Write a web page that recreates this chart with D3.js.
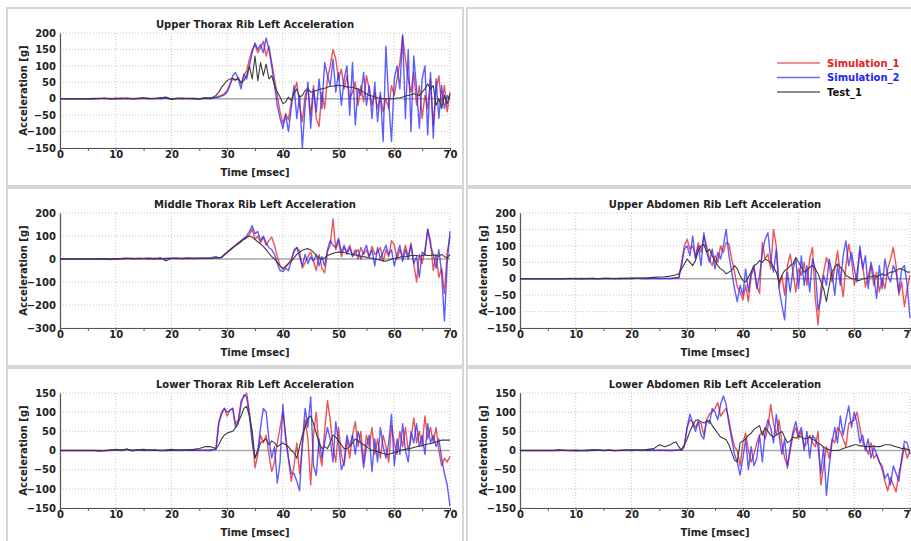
<!DOCTYPE html>
<html>
<head>
<meta charset="utf-8">
<script src="https://cdn.jsdelivr.net/npm/d3@7"></script>
<style>
  html, body { margin: 0; padding: 0; background: #fff; overflow: hidden; }
  text { font-family: "DejaVu Sans", Verdana, sans-serif; font-weight: bold; }
</style>
</head>
<body>
<svg id="chart" width="911" height="541"></svg>
<script>
// Sample times [msec]: 1 ms steps before impact, 0.5 ms steps afterwards
const timeMs = [
  0,1,2,3,4,5,6,7,8,9,10,11,12,13,14,15,16,17,18,19,20,21,22,23,24,25,26,
  27,27.5,28,28.5,29,29.5,30,30.5,31,31.5,
  32,32.5,33,33.5,34,34.5,35,35.5,36,36.5,
  37,37.5,38,38.5,39,39.5,40,40.5,41,41.5,
  42,42.5,43,43.5,44,44.5,45,45.5,46,46.5,
  47,47.5,48,48.5,49,49.5,50,50.5,51,51.5,
  52,52.5,53,53.5,54,54.5,55,55.5,56,56.5,
  57,57.5,58,58.5,59,59.5,60,60.5,61,61.5,
  62,62.5,63,63.5,64,64.5,65,65.5,66,66.5,
  67,67.5,68,68.5,69,69.5,70
];

const timeTicks = [0, 10, 20, 30, 40, 50, 60, 70];
const ticksA = [-150, -100, -50, 0, 50, 100, 150, 200];
const ticksB = [-300, -200, -100, 0, 100, 200];
const ticksC = [-150, -100, -50, 0, 50, 100, 150];

const seriesNames = ["Simulation_1", "Simulation_2", "Test_1"];

// ---- Upper Thorax Rib Left [g]
const upperThoraxSim1 = [
  0,0,0,0,0,0,0,1,0,1,0,2,0,1,0,1,0,1,2,1,0,1,0,1,1,0,2,
  2,3,5,8,10,15,25,45,60,55,
  65,45,70,85,120,150,165,140,155,175,
  130,160,110,60,10,-40,-75,-45,-65,-10,
  20,50,-20,-70,10,30,-50,40,-60,-85,
  20,-30,60,100,150,120,60,90,30,70,
  0,20,50,-20,40,-10,70,30,-20,20,
  -30,10,-40,0,-30,40,10,60,110,190,
  120,60,20,80,-20,40,-60,10,-30,60,
  -80,30,70,-20,40,-40,20
];
const upperThoraxSim2 = [
  0,0,0,0,0,0,0,1,1,0,1,0,1,0,1,2,0,1,0,2,-1,1,0,1,0,-2,1,
  0,2,3,5,8,12,20,40,70,80,
  60,30,75,60,100,140,170,150,165,140,
  185,150,100,40,-20,-60,-90,-50,-100,-30,
  40,-60,10,-150,-20,50,-90,30,-40,60,
  -30,110,70,40,120,20,80,-20,60,100,
  -50,110,-80,30,10,80,-20,40,-60,50,
  -70,20,-130,160,-10,-130,60,100,30,195,
  -60,150,-100,130,30,-90,60,100,-110,80,
  -120,60,-60,40,-30,10,0
];
const upperThoraxTest = [
  0,0,0,0,0,0,1,0,2,-1,1,0,2,-1,1,2,1,0,3,5,-2,1,2,0,1,0,3,
  2,5,10,20,35,45,55,60,62,58,
  60,50,55,70,100,60,130,55,110,70,
  105,60,70,40,20,5,-15,-10,5,-5,
  15,30,5,10,25,30,20,22,25,28,
  30,32,35,38,38,40,40,40,38,36,
  35,35,32,30,25,20,15,10,8,5,
  3,2,0,0,0,0,0,2,3,5,
  8,10,12,15,12,10,20,30,45,30,
  40,-20,0,-30,10,-15,15
];

// ---- Middle Thorax Rib Left [g]
const middleThoraxSim1 = [
  0,0,0,0,0,0,0,0,1,-2,0,1,2,0,3,1,2,0,2,0,4,3,2,3,2,4,3,
  3,5,6,5,8,20,30,40,50,60,
  70,80,88,95,105,130,85,100,70,95,
  60,80,95,60,10,-30,-45,-30,-20,0,
  30,50,35,-40,-15,10,30,-10,-50,20,
  -40,-60,30,60,175,40,80,10,50,30,
  60,15,40,0,50,20,40,10,55,20,
  30,50,-10,40,10,80,60,0,40,10,
  60,10,70,-20,-100,20,-20,40,130,80,
  -50,20,-80,-40,-150,30,100
];
const middleThoraxSim2 = [
  0,0,0,0,0,0,0,1,0,-1,1,2,4,1,2,2,1,3,0,4,3,2,3,5,2,3,4,
  5,8,10,5,6,18,28,40,50,58,
  68,78,90,100,120,145,110,120,80,100,
  70,50,40,20,-20,-50,-55,-40,-50,-10,
  40,50,10,-30,20,-20,10,-10,20,-30,
  10,-30,40,80,60,50,90,30,60,20,
  50,10,30,40,0,30,60,10,40,-30,
  50,0,30,60,20,40,-30,20,60,-10,
  40,0,60,-20,10,-80,30,20,130,60,
  20,-40,40,-60,-270,-20,120
];
const middleThoraxTest = [
  0,0,0,0,0,0,0,0,1,0,1,0,2,3,1,2,4,1,5,-8,2,3,1,2,3,2,3,
  2,3,5,5,8,18,28,38,48,58,
  66,75,85,92,100,95,85,75,65,55,
  40,25,10,0,-15,-30,-40,-35,-20,-10,
  5,20,30,38,42,45,40,30,15,5,
  0,5,15,20,25,28,30,30,28,25,
  22,20,18,15,12,10,8,5,3,0,
  -2,-5,-8,-10,-5,0,2,5,8,10,
  10,12,15,15,15,12,15,18,15,15,
  18,15,12,20,10,5,20
];

// ---- Upper Abdomen Rib Left [g]
const upperAbdomenSim1 = [
  0,0,0,0,0,0,0,0,0,0,1,0,0,1,0,0,1,0,1,0,1,1,0,1,1,1,1,
  1,2,3,2,50,100,120,90,100,65,
  110,80,130,100,60,40,70,50,100,80,
  110,105,60,20,-25,-40,-65,-20,-70,10,
  30,-20,-45,110,60,75,30,150,100,-25,
  10,-50,40,75,20,-40,30,10,50,-20,
  60,95,-60,-140,-30,20,65,40,-10,30,
  85,10,-55,40,105,60,-20,20,85,40,
  -25,10,40,-20,20,-40,0,-30,30,60,
  95,40,-50,-10,-85,-30,10
];
const upperAbdomenSim2 = [
  0,0,0,0,0,0,0,0,0,1,0,0,1,0,0,1,0,1,0,1,0,1,1,0,1,0,1,
  0,1,2,3,40,90,100,70,130,60,
  100,40,140,80,50,90,30,80,60,100,
  150,70,20,-30,-70,-20,-50,30,-40,20,
  40,-30,10,80,120,140,60,20,90,-30,
  -80,-125,20,-40,30,60,-30,70,-20,40,
  -40,60,30,-95,-60,10,-20,60,20,-50,
  40,-20,70,115,40,80,30,-10,100,30,
  70,-30,50,10,-60,40,-30,60,10,-10,
  40,20,-40,30,40,-20,-120
];
const upperAbdomenTest = [
  0,0,0,0,0,0,0,0,0,0,0,1,0,1,0,1,1,0,1,1,2,2,2,3,4,5,6,
  8,10,12,15,30,45,60,50,40,55,
  85,100,105,80,90,70,55,40,30,25,
  15,20,25,40,30,10,-5,-10,5,20,
  40,45,55,50,60,55,50,35,20,-10,
  10,25,30,40,45,65,50,35,20,25,
  35,40,30,15,-10,-30,-70,-20,20,35,
  45,35,25,10,5,0,0,-5,-5,0,
  0,5,5,10,5,10,15,10,15,20,
  20,25,30,30,25,20,20
];

// ---- Lower Thorax Rib Left [g]
const lowerThoraxSim1 = [
  0,0,0,0,0,0,0,-1,0,0,2,1,3,0,1,2,0,1,-1,0,1,0,1,0,1,0,1,
  2,3,5,75,100,110,90,105,110,70,
  80,130,140,150,100,40,-45,-10,40,20,
  40,-10,-55,-30,20,60,100,40,-20,-80,
  -40,20,-60,10,80,30,-90,40,100,0,
  -40,50,130,80,10,-30,60,-10,-40,30,
  -20,40,75,10,50,-30,40,10,60,-10,
  30,-20,40,10,-30,65,20,-10,50,10,
  60,0,30,85,20,50,10,90,30,60,
  20,60,0,-40,-20,-30,-15
];
const lowerThoraxSim2 = [
  0,0,0,0,0,0,0,0,-1,1,2,0,3,1,2,0,1,0,1,0,0,1,0,1,0,1,0,
  0,2,3,70,95,110,100,105,110,60,
  70,120,145,140,90,20,-20,0,60,110,
  100,30,-20,10,-85,-30,120,30,-20,-60,
  -60,-80,-105,20,110,60,140,-40,-65,30,
  -20,20,60,30,-30,75,20,-50,-30,40,
  10,40,-10,50,20,-45,10,40,-55,30,
  -30,60,10,-20,20,95,-40,30,-10,70,
  0,-30,50,20,70,10,40,-10,70,20,
  40,10,30,-20,-60,-90,-145
];
const lowerThoraxTest = [
  0,0,0,0,0,0,0,-1,0,1,3,1,4,-1,2,3,1,2,0,1,3,1,2,2,3,5,10,
  10,8,5,15,30,40,45,48,50,60,
  75,90,110,115,90,50,-20,0,20,25,
  30,15,25,20,10,15,20,15,10,0,
  -5,-20,10,40,60,85,90,70,45,20,
  5,10,5,20,40,35,25,15,5,5,
  10,20,30,25,20,15,10,5,0,0,
  -3,-5,-8,-10,-10,-8,-5,-3,0,2,
  3,5,6,8,10,12,13,15,17,18,
  20,22,25,27,27,27,27
];

// ---- Lower Abdomen Rib Left [g]
const lowerAbdomenSim1 = [
  0,0,0,0,0,0,0,1,0,0,0,-1,1,0,1,0,1,0,0,1,0,1,0,1,0,1,0,
  0,1,1,2,3,15,60,80,75,60,
  75,70,40,80,95,100,110,125,90,100,
  110,80,40,10,0,-40,20,45,0,-30,
  -10,20,40,50,30,60,120,70,40,80,
  20,-20,-40,0,40,60,30,50,10,20,
  40,20,10,50,-90,-40,10,-20,30,20,
  60,50,30,10,70,75,80,100,60,20,
  10,-10,20,-20,-10,-30,-50,-80,-105,-70,
  -90,-108,-60,-30,10,-20,0
];
const lowerAbdomenSim2 = [
  0,0,0,0,0,0,0,0,1,0,-1,0,1,2,1,0,1,-1,1,1,0,1,1,0,1,0,1,
  0,0,1,1,2,10,60,95,70,50,
  75,40,30,80,70,110,100,80,120,142,
  120,70,30,-10,-30,-64,-20,30,-50,10,
  -40,-20,40,-30,50,80,60,20,94,40,
  -10,30,-46,10,50,76,40,60,0,50,
  -20,40,30,10,-60,10,-117,-40,20,60,
  20,90,40,80,116,60,100,70,20,40,
  0,30,-20,10,-10,-30,-40,-73,-60,-90,
  -40,-60,-80,-20,24,20,-10
];
const lowerAbdomenTest = [
  0,0,0,0,0,0,0,2,0,0,1,0,-1,1,2,0,1,0,0,1,2,1,1,3,5,15,10,
  15,20,22,10,0,15,30,50,65,78,
  80,75,72,75,78,65,55,45,35,32,
  28,15,-5,-25,-30,20,25,30,40,45,
  55,60,65,40,60,50,40,35,40,45,
  50,35,20,25,35,32,38,35,30,32,
  35,30,25,20,15,8,5,2,0,0,
  0,2,5,8,10,12,15,15,12,12,
  10,10,10,12,10,10,12,15,15,15,
  12,10,8,5,5,3,0
];

const panels = [
  { title: "Upper Thorax Rib Left Acceleration",  col: 0, row: 0, yTicks: ticksA,
    series: [upperThoraxSim1, upperThoraxSim2, upperThoraxTest] },
  { title: "Middle Thorax Rib Left Acceleration", col: 0, row: 1, yTicks: ticksB,
    series: [middleThoraxSim1, middleThoraxSim2, middleThoraxTest] },
  { title: "Upper Abdomen Rib Left Acceleration", col: 1, row: 1, yTicks: ticksA,
    series: [upperAbdomenSim1, upperAbdomenSim2, upperAbdomenTest] },
  { title: "Lower Thorax Rib Left Acceleration",  col: 0, row: 2, yTicks: ticksC,
    series: [lowerThoraxSim1, lowerThoraxSim2, lowerThoraxTest] },
  { title: "Lower Abdomen Rib Left Acceleration", col: 1, row: 2, yTicks: ticksC,
    series: [lowerAbdomenSim1, lowerAbdomenSim2, lowerAbdomenTest] }
];

// ---- layout
const colX = [7, 467], rowY = [8, 188, 368];
const boxW = 456, boxH = 178;
const plotDX = 53, plotDY = 25, plotW = 390, plotH = 115;

const lineStyle = [
  { stroke: "rgba(232,40,40,0.8)",  width: 1.4 },
  { stroke: "rgba(40,40,255,0.75)", width: 1.4 },
  { stroke: "#3a3a3a",              width: 1.1 }
];
const legendColors = ["#e32222", "#2323f5", "#111"];
const legendLineColors = ["#ef6a6a", "#6a6aff", "#666666"];

const svg = d3.select("#chart");
svg.append("rect").attr("width", 911).attr("height", 541).attr("fill", "#fff");

// panel frames (including the legend-only frame)
[[0,0],[1,0],[0,1],[1,1],[0,2],[1,2]].forEach(([c, r]) => {
  svg.append("rect")
    .attr("x", colX[c]).attr("y", rowY[r])
    .attr("width", boxW).attr("height", boxH)
    .attr("fill", "#fff").attr("stroke", "#d6d6d6").attr("stroke-width", 2);
});

panels.forEach((p, idx) => {
  const ox = colX[p.col] + plotDX, oy = rowY[p.row] + plotDY;
  const g = svg.append("g").attr("transform", `translate(${ox},${oy})`);
  const x = d3.scaleLinear().domain([0, 70]).range([0, plotW]);
  const yDom = d3.extent(p.yTicks);
  const y = d3.scaleLinear().domain(yDom).range([plotH, 0]);

  // dotted grid
  g.append("g").selectAll("line").data(timeTicks).join("line")
    .attr("x1", d => x(d)).attr("x2", d => x(d)).attr("y1", 0).attr("y2", plotH)
    .attr("stroke", "#c4c4c4").attr("stroke-width", 1).attr("stroke-dasharray", "1,2");
  g.append("g").selectAll("line").data(p.yTicks).join("line")
    .attr("x1", 0).attr("x2", plotW).attr("y1", d => y(d)).attr("y2", d => y(d))
    .attr("stroke", "#c4c4c4").attr("stroke-width", 1).attr("stroke-dasharray", "1,2");

  // zero reference line
  g.append("line").attr("x1", 0).attr("x2", plotW).attr("y1", y(0)).attr("y2", y(0))
    .attr("stroke", "#a8a8a8").attr("stroke-width", 1.5);

  // axes
  const xAxis = d3.axisBottom(x).tickValues(d3.range(0, 71, 5)).tickSize(3)
    .tickFormat(d => timeTicks.includes(d) ? d : "");
  const gx = g.append("g").attr("transform", `translate(0,${plotH})`).call(xAxis);
  const yAxis = d3.axisLeft(y).tickValues(p.yTicks).tickSize(0).tickPadding(4);
  const gy = g.append("g").call(yAxis);
  [gx, gy].forEach(a => {
    a.select(".domain").attr("stroke", "#555").attr("stroke-width", 1.2);
    a.selectAll(".tick line").attr("stroke", "#555");
    a.selectAll("text").attr("font-size", 10).attr("fill", "#222")
      .attr("font-family", "DejaVu Sans, sans-serif").attr("font-weight", "bold");
  });
  gx.selectAll("text").attr("dy", "0.9em").attr("y", 1);

  // series
  const clipId = "clip" + idx;
  g.append("clipPath").attr("id", clipId).append("rect")
    .attr("x", 0).attr("y", -1).attr("width", plotW + 1).attr("height", plotH + 2);
  const line = d3.line().x(d => x(d[0])).y(d => y(d[1]));
  p.series.forEach((vals, si) => {
    const pts = vals.map((v, i) => [timeMs[i], v]);
    g.append("path").datum(pts)
      .attr("clip-path", `url(#${clipId})`)
      .attr("fill", "none")
      .attr("stroke", lineStyle[si].stroke)
      .attr("stroke-width", lineStyle[si].width)
      .attr("stroke-linejoin", "round")
      .attr("d", line);
  });

  // titles
  g.append("text").attr("x", plotW / 2).attr("y", -5).attr("text-anchor", "middle")
    .attr("font-size", 10).attr("fill", "#222").text(p.title);
  g.append("text").attr("x", plotW / 2).attr("y", plotH + 28).attr("text-anchor", "middle")
    .attr("font-size", 10).attr("fill", "#222").text("Time [msec]");
  g.append("text").attr("transform", `translate(-33,${plotH / 2}) rotate(-90)`)
    .attr("text-anchor", "middle").attr("font-size", 10).attr("fill", "#222")
    .text("Acceleration [g]");
});

// legend
const lg = svg.append("g").attr("transform", "translate(777,63)");
seriesNames.forEach((name, i) => {
  lg.append("line").attr("x1", 0).attr("x2", 43).attr("y1", i * 14.5).attr("y2", i * 14.5)
    .attr("stroke", legendLineColors[i]).attr("stroke-width", 1.5);
  lg.append("text").attr("x", 50).attr("y", i * 14.5).attr("dy", "0.35em")
    .attr("font-size", 10).attr("fill", legendColors[i]).text(name);
});
</script>
</body>
</html>
